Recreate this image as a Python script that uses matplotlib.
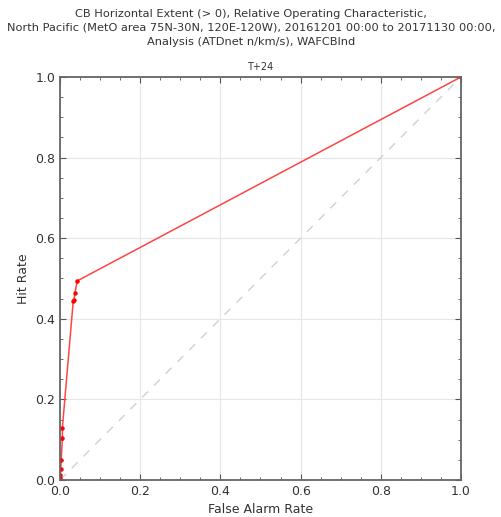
import matplotlib
matplotlib.use("Agg")
import matplotlib.pyplot as plt
from matplotlib.ticker import MultipleLocator

# ROC points (false alarm rate, hit rate)
far = [0.0, 0.0, 0.001, 0.002, 0.003, 0.006, 0.006, 0.033, 0.035, 0.037, 0.043, 1.0]
hit = [0.0, 0.004, 0.012, 0.028, 0.05, 0.105, 0.130, 0.443, 0.447, 0.463, 0.494, 1.0]

title = ("CB Horizontal Extent (> 0), Relative Operating Characteristic,\n"
         "North Pacific (MetO area 75N-30N, 120E-120W), 20161201 00:00 to 20171130 00:00,\n"
         "Analysis (ATDnet n/km/s), WAFCBlnd")

txt = "#333333"
fig = plt.figure(figsize=(5.02, 5.17), dpi=100)
ax = fig.add_axes([0.1195, 0.0716, 0.7988, 0.7795])

ax.plot([0, 1], [0, 1], color="#d0d0d0", linestyle=(0, (6, 6)), lw=1)
ax.plot(far, hit, color="#ff4444", lw=1.1, marker="o", ms=2.2, mec="#ff0000", mfc="#ff0000")

ax.set_xlim(0, 1)
ax.set_ylim(0, 1)
ax.xaxis.set_major_locator(MultipleLocator(0.2))
ax.yaxis.set_major_locator(MultipleLocator(0.2))
ax.xaxis.set_minor_locator(MultipleLocator(0.05))
ax.yaxis.set_minor_locator(MultipleLocator(0.05))
ax.grid(True, which="major", color="#e6e6e6", lw=0.8)
ax.tick_params(which="both", direction="in", top=True, right=True, colors="#555555",
               labelcolor=txt, labelsize=9)
ax.tick_params(which="major", length=4)
ax.tick_params(which="minor", length=2)
for s in ax.spines.values():
    s.set_color("#666666")
    s.set_linewidth(1.3)

ax.set_xlabel("False Alarm Rate", fontsize=9, color=txt)
ax.set_ylabel("Hit Rate", fontsize=9, color=txt)
ax.set_title("T+24", fontsize=7, color=txt, pad=5)
fig.suptitle(title, fontsize=8.2, color=txt, y=0.946, va="center", linespacing=1.55)

fig.savefig("out.png", dpi=100)
